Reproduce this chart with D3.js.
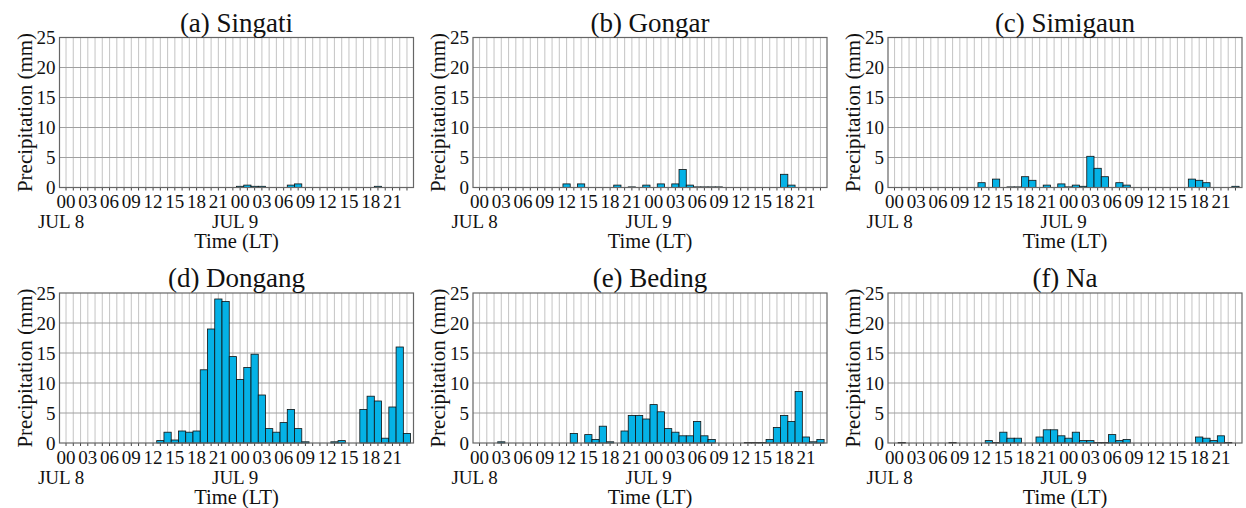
<!DOCTYPE html>
<html>
<head>
<meta charset="utf-8">
<script src="https://cdn.jsdelivr.net/npm/d3@7"></script>
<style>
    body { margin: 0; background: #fff; }
    text { font-family: "Liberation Serif", "DejaVu Serif", serif; fill: #111; }
</style>
</head>
<body>
<script>
(function() {

    // hourly rainfall, JUL 8 00 LT .. JUL 9 23 LT (48 values each)
    var singati = [0,0,0,0,0,0,0,0,0,0,0,0,
                   0,0,0,0,0,0,0,0,0,0,0,0,
                   0.2,0.4,0.2,0.2,0,0,0,0.4,0.6,0,0,0,
                   0,0,0,0,0,0,0,0.2,0,0,0,0];
    var gongar = [0,0,0,0,0,0,0,0,0,0,0,0,
                  0.6,0,0.6,0,0,0,0,0.4,0,0.1,0,0.4,
                  0,0.6,0,0.6,3.0,0.4,0.1,0.1,0.1,0.1,0,0,
                  0,0,0,0,0,0,2.2,0.4,0,0,0,0];
    var simigaun = [0,0,0,0,0,0,0,0,0,0,0,0,
                    0.8,0,1.4,0,0.1,0.1,1.8,1.2,0,0.4,0,0.6,
                    0.1,0.4,0.2,5.2,3.2,1.8,0,0.8,0.4,0,0,0,
                    0,0,0,0,0,1.4,1.2,0.8,0,0,0,0.2];
    var dongang = [0,0,0,0,0,0,0,0,0,0,0,0,
                   0,0.4,1.8,0.5,2.0,1.8,2.0,12.2,19.0,24.0,23.6,14.4,
                   10.6,12.6,14.8,8.0,2.4,1.8,3.4,5.6,2.4,0.2,0,0,
                   0,0.2,0.4,0,0,5.6,7.8,7.0,0.8,6.0,16.0,1.6];
    var beding = [0,0,0,0.2,0,0,0,0,0,0,0,0,
                  0,1.6,0,1.4,0.6,2.8,0.2,0,2.0,4.6,4.6,4.0,
                  6.4,5.2,2.4,1.8,1.2,1.2,3.6,1.2,0.6,0,0,0,
                  0,0.1,0.1,0.1,0.6,2.6,4.6,3.6,8.6,1.0,0.2,0.6];
    var na = [0,0.1,0,0,0,0,0,0,0.1,0,0,0,
              0,0.4,0.1,1.8,0.8,0.8,0,0,1.0,2.2,2.2,1.2,
              0.8,1.8,0.4,0.4,0.1,0.1,1.4,0.4,0.6,0,0,0,
              0,0,0,0,0,0,1.0,0.8,0.4,1.2,0.1,0];

    var titles = ["(a) Singati", "(b) Gongar", "(c) Simigaun",
                  "(d) Dongang", "(e) Beding", "(f) Na"];
    var series = [singati, gongar, simigaun, dongang, beding, na];

    var hourTicks = [0,3,6,9,12,15,18,21,24,27,30,33,36,39,42,45];
    var hourLabels = ["00","03","06","09","12","15","18","21",
                      "00","03","06","09","12","15","18","21"];
    var dayTicks = [0, 24];
    var dayLabels = ["JUL 8", "JUL 9"];
    var yTicks = [0, 5, 10, 15, 20, 25];

    var width = 1246,
        height = 508,
        colLeft = [59.5, 473, 888],
        rowTop = [37.5, 293],
        plotW = 354,
        plotH = 150,
        barColor = "#05b2e6";

    var svg = d3.select("body").append("svg")
                .attr("width", width)
                .attr("height", height);

    svg.append("rect")
       .attr("width", width)
       .attr("height", height)
       .style("fill", "#fff");

    var hours = d3.range(48);

    var x = d3.scaleLinear().domain([-0.9, 47.9]).range([0, plotW]),
        y = d3.scaleLinear().domain([0, 25]).range([plotH, 0]);

    function drawPanel(k) {
        var g = svg.append("g")
                   .attr("transform", "translate(" + colLeft[k % 3] + "," + rowTop[Math.floor(k / 3)] + ")");
        var vals = series[k];

        // vertical hourly grid (light) and horizontal grid (darker)
        g.selectAll(".vgrid")
         .data(hours)
         .enter().append("line")
         .attr("x1", function(d) {return x(d); })
         .attr("x2", function(d) {return x(d); })
         .attr("y1", 0)
         .attr("y2", plotH)
         .style("stroke", "#c9c9c9")
         .style("stroke-width", 1.1);

        g.selectAll(".hgrid")
         .data([5, 10, 15, 20])
         .enter().append("line")
         .attr("x1", 0)
         .attr("x2", plotW)
         .attr("y1", function(d) {return y(d); })
         .attr("y2", function(d) {return y(d); })
         .style("stroke", "#a0a0a0")
         .style("stroke-width", 1);

        g.selectAll(".bar")
         .data(hours.filter(function(h) {return vals[h] > 0; }))
         .enter().append("rect")
         .attr("x", function(h) {return x(h - 0.5); })
         .attr("width", function(h) {return x(h + 0.5) - x(h - 0.5); })
         .attr("y", function(h) {return y(vals[h]); })
         .attr("height", function(h) {return plotH - y(vals[h]); })
         .style("fill", barColor)
         .style("stroke", "#111")
         .style("stroke-width", 0.8);

        // hourly tick marks under the frame
        g.selectAll(".xtick")
         .data(hours)
         .enter().append("line")
         .attr("x1", function(d) {return x(d); })
         .attr("x2", function(d) {return x(d); })
         .attr("y1", plotH)
         .attr("y2", plotH + 3)
         .style("stroke", "#444")
         .style("stroke-width", 1);

        g.append("rect")
         .attr("width", plotW)
         .attr("height", plotH)
         .style("fill", "none")
         .style("stroke", "#666")
         .style("stroke-width", 1.2);

        g.selectAll(".xlab")
         .data(hourTicks)
         .enter().append("text")
         .attr("x", function(d) {return x(d); })
         .attr("y", plotH + 20.5)
         .attr("text-anchor", "middle")
         .style("font-size", "19px")
         .text(function(d, i) {return hourLabels[i]; });

        g.selectAll(".daylab")
         .data(dayTicks)
         .enter().append("text")
         .attr("x", function(d) {return x(d) - 5; })
         .attr("y", plotH + 40.5)
         .attr("text-anchor", "middle")
         .style("font-size", "19px")
         .text(function(d, i) {return dayLabels[i]; });

        g.selectAll(".ylab")
         .data(yTicks)
         .enter().append("text")
         .attr("x", -4)
         .attr("y", function(d) {return y(d) + 6.5; })
         .attr("text-anchor", "end")
         .style("font-size", "19px")
         .text(function(d) {return d; });

        g.append("text")
         .attr("x", plotW / 2)
         .attr("y", plotH + 60.5)
         .attr("text-anchor", "middle")
         .style("font-size", "20.5px")
         .text("Time (LT)");

        g.append("text")
         .attr("transform", "translate(-28," + (plotH / 2) + ") rotate(-90)")
         .attr("text-anchor", "middle")
         .style("font-size", "21px")
         .text("Precipitation (mm)");

        g.append("text")
         .attr("x", plotW / 2)
         .attr("y", -6)
         .attr("text-anchor", "middle")
         .style("font-size", "27px")
         .text(titles[k]);
    }

    for (var k = 0; k < series.length; k += 1) {
        drawPanel(k);
    }

})();
</script>
</body>
</html>
